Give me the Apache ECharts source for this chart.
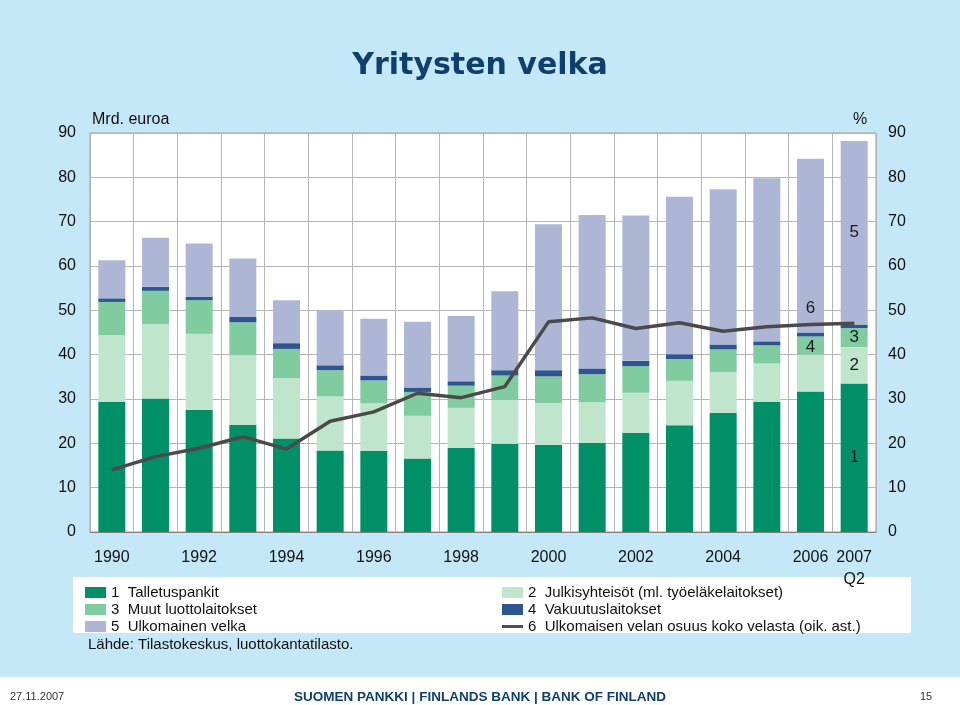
<!DOCTYPE html>
<html>
<head>
<meta charset="utf-8">
<script src="https://cdn.jsdelivr.net/npm/echarts@6/dist/echarts.min.js"></script>
<style>
html,body{margin:0;padding:0;background:#c4e8f8;}
#main{width:960px;height:705px;}
</style>
</head>
<body>
<div id="main"></div>
<script>
const categories = ['1990','1991','1992','1993','1994','1995','1996','1997','1998','1999','2000','2001','2002','2003','2004','2005','2006','2007\nQ2'];
const talletuspankit = [29.4,30.1,27.5,24.2,21.1,18.4,18.3,16.6,19.0,19.9,19.7,20.1,22.4,24.1,26.9,29.3,31.7,33.5];
const julkisyhteisot = [15.0,16.8,17.2,15.7,13.6,12.2,10.7,9.6,9.0,9.9,9.4,9.2,9.0,10.0,9.2,8.7,8.3,8.2];
const muutLuotto = [7.5,7.5,7.6,7.4,6.6,5.9,5.2,5.4,5.0,5.5,6.0,6.3,6.0,4.9,5.1,4.1,4.1,4.3];
const vakuutus = [0.8,0.9,0.8,1.2,1.3,1.1,1.1,1.0,1.0,1.2,1.4,1.3,1.2,1.1,1.1,0.9,0.9,0.8];
const ulkomainen = [8.6,11.1,12.0,13.2,9.7,12.4,12.8,14.8,14.7,17.8,32.9,34.6,32.8,35.5,35.0,36.8,39.2,41.4];
const osuus = [14.0,17.0,18.9,21.5,18.7,25.0,27.1,31.3,30.3,32.8,47.4,48.3,45.9,47.2,45.3,46.3,46.8,47.1];
const seriesNames = ['1  Talletuspankit','2  Julkisyhteisöt (ml. työeläkelaitokset)','3  Muut luottolaitokset','4  Vakuutuslaitokset','5  Ulkomainen velka','6  Ulkomaisen velan osuus koko velasta (oik. ast.)'];
const yTicks = [0,10,20,30,40,50,60,70,80,90];

const colors = ['#008f67','#bfe6cd','#80cca0','#2f5590','#adb7d5','#4a4a4a'];
const FONT = 'Liberation Sans';

function withLabel(arr, idx, text, pos, extra){
  return arr.map((v,i)=>{
    if(i!==idx) return v;
    return {value:v,label:Object.assign({show:true,position:pos,formatter:text,color:'#1a1a1a',fontSize:17,fontFamily:FONT},extra||{})};
  });
}
const last = categories.length-1;
const barSeries = [
  {name:seriesNames[0], data:withLabel(talletuspankit,last,'1','inside')},
  {name:seriesNames[1], data:withLabel(julkisyhteisot,last,'2','inside')},
  {name:seriesNames[2], data:withLabel(muutLuotto,last,'3','inside')},
  {name:seriesNames[3], data:withLabel(vakuutus,last-1,'4','bottom',{distance:2})},
  {name:seriesNames[4], data:withLabel(ulkomainen,last,'5','inside')}
].map((s,i)=>({
  name:s.name,type:'bar',stack:'debt',data:s.data,barWidth:27,
  itemStyle:{color:colors[i]},xAxisIndex:0,yAxisIndex:0
}));

const lineSeries = {
  name:seriesNames[5],type:'line',yAxisIndex:1,
  data:withLabel(osuus,last-1,'6','top',{distance:7}),
  symbol:'circle',symbolSize:1,showSymbol:true,
  lineStyle:{color:colors[5],width:3.5},itemStyle:{color:colors[5]},z:5
};

const chart = echarts.init(document.getElementById('main'));
const axisLabelStyle = {color:'#111',fontSize:16,fontFamily:FONT};
chart.setOption({
  backgroundColor:'#c4e8f8',
  animation:false,
  textStyle:{fontFamily:FONT},
  grid:{left:90,right:84,top:133,bottom:173,show:true,backgroundColor:'#ffffff',borderColor:'#9a9a9a',borderWidth:1},
  xAxis:{
    type:'category',data:categories,boundaryGap:true,
    axisLine:{show:true,lineStyle:{color:'#808080',width:1}},
    axisTick:{show:false},
    splitLine:{show:true,interval:0,lineStyle:{color:'#b5b5b5',width:1}},
    axisLabel:{color:'#111',fontSize:16,fontFamily:FONT,margin:15,lineHeight:22,
      interval:function(i){return i%2===0||i===categories.length-1;}}
  },
  yAxis:[
    {type:'value',min:0,max:90,interval:10,position:'left',
      axisLine:{show:false},axisTick:{show:false},
      splitLine:{show:true,lineStyle:{color:'#b5b5b5',width:1}},
      axisLabel:Object.assign({margin:14,formatter:v=>yTicks.includes(v)?String(v):''},axisLabelStyle)},
    {type:'value',min:0,max:90,interval:10,position:'right',
      axisLine:{show:false},axisTick:{show:false},splitLine:{show:false},
      axisLabel:Object.assign({margin:12,formatter:v=>yTicks.includes(v)?String(v):''},axisLabelStyle)}
  ],
  legend:[
    {data:[seriesNames[0],seriesNames[2],seriesNames[4]],orient:'vertical',left:80,top:580,itemWidth:21,itemHeight:11,itemGap:2,
      textStyle:{fontSize:15,color:'#111',fontFamily:FONT,lineHeight:15},icon:'rect'},
    {data:[{name:seriesNames[1],icon:'rect'},{name:seriesNames[3],icon:'rect'},{name:seriesNames[5],icon:'path://M0,0L22,0L22,3L0,3Z',itemStyle:{color:colors[5]}}],
      orient:'vertical',left:497,top:580,itemWidth:21,itemHeight:11,itemGap:2,
      textStyle:{fontSize:15,color:'#111',fontFamily:FONT,lineHeight:15}}
  ],
  graphic:[
    {type:'rect',left:73,top:577,shape:{width:838,height:56},style:{fill:'#ffffff'},z:-1,silent:true},
    {type:'rect',left:0,top:677,shape:{width:960,height:28},style:{fill:'#ffffff'},z:-1,silent:true},
    {type:'text',left:'center',top:51,style:{text:'Yritysten velka',fill:'#0e3f6e',font:'bold 30px "DejaVu Sans"'}},
    {type:'text',left:92,top:112,style:{text:'Mrd. euroa',fill:'#111',font:'16px "Liberation Sans"'}},
    {type:'text',left:853,top:112,style:{text:'%',fill:'#111',font:'16px "Liberation Sans"'}},
    {type:'text',left:88,top:637,style:{text:'Lähde: Tilastokeskus, luottokantatilasto.',fill:'#111',font:'15px "Liberation Sans"'}},
    {type:'text',left:10,top:691,style:{text:'27.11.2007',fill:'#333',font:'11px "Liberation Sans"'}},
    {type:'text',left:'center',top:690,style:{text:'SUOMEN PANKKI | FINLANDS BANK | BANK OF FINLAND',fill:'#0e3f6e',font:'bold 13.5px "Liberation Sans"'}},
    {type:'text',left:920,top:691,style:{text:'15',fill:'#333',font:'11px "Liberation Sans"'}}
  ],
  series:[...barSeries,lineSeries]
});
</script>
</body>
</html>
